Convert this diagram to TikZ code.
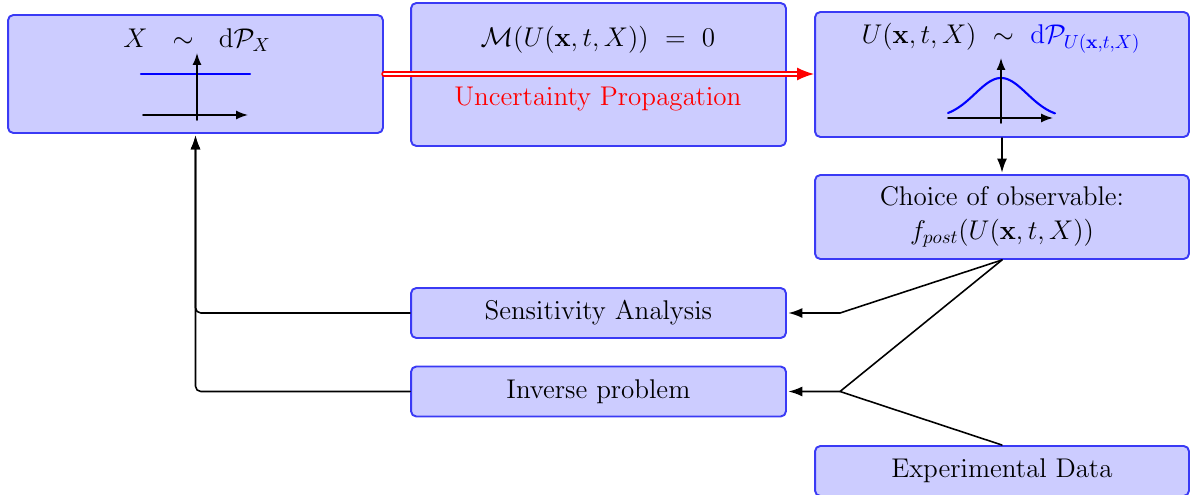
\documentclass[tikz,border=0pt]{standalone}
\usepackage{fix-cm}
\usepackage[OT1]{fontenc}
\usepackage{amsmath,amssymb}
\usepackage{xcolor}
\usepackage{tikz}
\usetikzlibrary{arrows.meta,positioning}
\definecolor{uqFill}{HTML}{CCCCFF}
\definecolor{uqLine}{HTML}{3A3AF5}
\tikzset{
  uq diagram/.style={font=\fontsize{15.4}{19}\selectfont, line cap=round, line join=round},
  uq box/.style={draw=uqLine, fill=uqFill, line width=1.1pt,
    rounded corners=3pt, align=center, inner sep=0pt, minimum width=7.5cm},
  uq arrow/.style={-{Latex[length=2.8mm,width=2mm]}, draw=black, line width=0.9pt,
    shorten >=0.8pt},
  uq line/.style={draw=black, line width=0.9pt},
  uq propagate/.style={-{Latex[length=3.4mm,width=2.6mm]}, draw=red, double=white,
    double distance=1.2pt, line width=0.9pt},
  uq axis/.style={-{Latex[length=2.4mm,width=1.8mm]}, draw=black, line width=0.9pt},
  uq curve/.style={draw=blue, line width=1.2pt}
}
\begin{document}
\begin{tikzpicture}[uq diagram,x=0.02cm,y=0.02cm]
\useasboundingbox (0,0) rectangle (1192,494);
% boxes
\node[uq box, minimum height=2.36cm] (xbox) at (195.5,420) {};
\node[uq box, minimum height=2.86cm] (mbox) at (598.5,419.5) {};
\node[uq box, minimum height=2.5cm, minimum width=7.48cm] (ubox) at (1002,419.5) {};
\node[uq box, minimum height=1.68cm, minimum width=7.48cm] (obs) at (1002,277) {};
\node[uq box, minimum height=1cm] (sa) at (598.5,181) {Sensitivity Analysis};
\node[uq box, minimum height=1cm] (ip) at (598.5,102.5) {Inverse problem};
\node[uq box, minimum height=1cm, minimum width=7.48cm] (exp) at (1002,23) {Experimental Data};
% texts in the boxes
\node (xlabel) at (197,454) {$X~~\sim~~\mathrm{d}\mathcal{P}_X$};
\node (mlabel) at (598,454) {$\mathcal{M}(U(\mathbf{x},t,X))~=~0$};
\node[text=red] (uplabel) at (598,395) {Uncertainty Propagation};
\node (ulabel) at (1001,456) {$U(\mathbf{x},t,X)~\sim~\textcolor{blue}{\mathrm{d}\mathcal{P}_{U(\mathbf{x},t,X)}}$};
\node[align=center] (obslabel) at (obs.center) {Choice of observable:\\ $f_{post}(U(\mathbf{x},t,X))$};
% input density
\draw[uq curve] (141,420) -- (250,420);
\draw[uq axis] (143,379) -- (248,379);
\draw[uq axis] (197,374) -- (197,441);
% output density
\draw[uq curve,domain=948:1055,samples=80] plot (\x,{376+40*exp(-((\x-1001)^2)/1352)});
\draw[uq axis] (948,376) -- (1053,376);
\draw[uq axis] (1001,371) -- (1001,436);
% connectors
\draw[uq propagate] (xbox.east) -- (xbox.east -| ubox.west);
\draw[uq arrow] (ubox.south) -- (obs.north);
\coordinate (sajoin) at (840,181);
\coordinate (ipjoin) at (840,102.5);
\draw[uq arrow] (obs.south) -- (sajoin) -- (sa.east);
\draw[uq arrow] (obs.south) -- (ipjoin) -- (ip.east);
\draw[uq line] (exp.north) -- (ipjoin);
\draw[uq arrow, rounded corners=3pt] (sa.west) -| (xbox.south);
\draw[uq arrow, rounded corners=3pt] (ip.west) -| (xbox.south);
\end{tikzpicture}
\end{document}
